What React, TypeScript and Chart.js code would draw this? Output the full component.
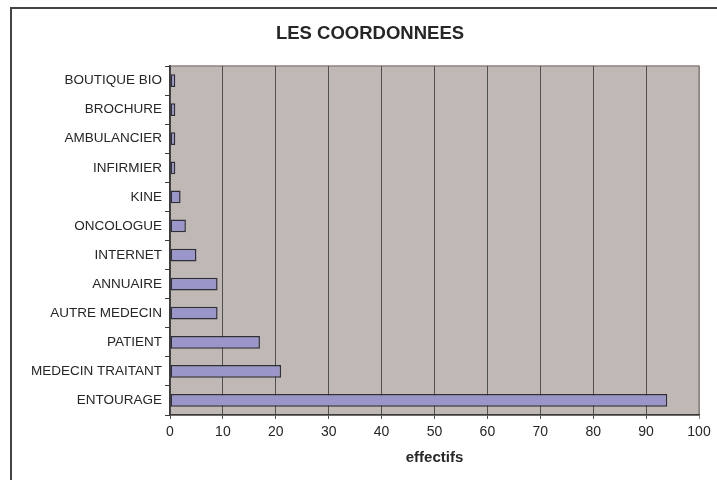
import React, { useEffect, useRef } from "react";
import { Chart, registerables } from "chart.js";

Chart.register(...registerables);

const categories = [
  "BOUTIQUE BIO",
  "BROCHURE",
  "AMBULANCIER",
  "INFIRMIER",
  "KINE",
  "ONCOLOGUE",
  "INTERNET",
  "ANNUAIRE",
  "AUTRE MEDECIN",
  "PATIENT",
  "MEDECIN TRAITANT",
  "ENTOURAGE",
];
const effectifs = [1, 1, 1, 1, 2, 3, 5, 9, 9, 17, 21, 94];
const chartTitle = "LES COORDONNEES";
const xAxisTitle = "effectifs";
const xMin = 0;
const xMax = 100;
const xStep = 10;

const FONT = '"Liberation Sans", Arial, Helvetica, sans-serif';

const plotPlugin = {
  id: "plotDecor",
  beforeDraw(chart: any) {
    const { ctx, chartArea } = chart;
    const { left, top, right, bottom } = chartArea;
    ctx.save();
    ctx.fillStyle = "#c0b8b5";
    ctx.fillRect(left, top, right - left, bottom - top);
    ctx.strokeStyle = "#8d8481";
    ctx.lineWidth = 1.5;
    ctx.strokeRect(left, top, right - left, bottom - top);
    ctx.restore();
  },
  afterDraw(chart: any) {
    const { ctx } = chart;
    ctx.save();
    ctx.fillStyle = "#262626";
    ctx.font = `bold 18.5px ${FONT}`;
    ctx.textAlign = "center";
    ctx.textBaseline = "alphabetic";
    ctx.fillText(chartTitle, 370, 38.5);
    ctx.restore();
  },
};

export default function App() {
  const canvasRef = useRef<HTMLCanvasElement | null>(null);

  useEffect(() => {
    const canvas = canvasRef.current;
    if (!canvas) return;
    const chart = new Chart(canvas, {
      type: "bar",
      data: {
        labels: categories,
        datasets: [
          {
            data: effectifs,
            backgroundColor: "#9a96c9",
            borderColor: "#2f2f3a",
            borderWidth: 1.5,
            borderSkipped: false,
            barPercentage: 0.44,
            categoryPercentage: 1,
          },
        ],
      },
      options: {
        indexAxis: "y",
        responsive: false,
        animation: false,
        devicePixelRatio: 1,
        layout: { padding: { left: 0, right: 18, top: 66, bottom: 0 } },
        plugins: {
          legend: { display: false },
          tooltip: { enabled: false },
          title: { display: false },
        },
        scales: {
          x: {
            type: "linear",
            min: xMin,
            max: xMax,
            ticks: {
              stepSize: xStep,
              color: "#262626",
              font: { family: FONT, size: 14 },
              padding: 5,
            },
            grid: {
              color: (c: any) => (c.tick && c.tick.value === xMax ? "#8d8481" : "#505050"),
              lineWidth: 1,
              tickLength: 4,
              drawOnChartArea: true,
              drawTicks: true,
            },
            border: { color: "#3a3a3a", width: 1.5 },
            title: {
              display: true,
              text: xAxisTitle,
              color: "#262626",
              font: { family: FONT, size: 15, weight: "bold" },
              padding: { top: 0, bottom: 13 },
            },
            afterFit: (s: any) => {
              s.height = 65;
            },
          },
          y: {
            type: "category",
            ticks: {
              color: "#262626",
              font: { family: FONT, size: 13.5 },
              padding: 3,
              autoSkip: false,
            },
            grid: {
              offset: true,
              drawOnChartArea: false,
              tickLength: 5,
              color: "#3a3a3a",
            },
            border: { color: "#3a3a3a", width: 1.5 },
            afterFit: (s: any) => {
              s.width = 170;
            },
          },
        },
      },
      plugins: [plotPlugin],
    } as any);
    return () => chart.destroy();
  }, []);

  return (
    <div
      style={{
        position: "fixed",
        left: 0,
        top: 0,
        width: 717,
        height: 480,
        overflow: "hidden",
        background: "#ffffff",
      }}
    >
      <canvas
        ref={canvasRef}
        width={717}
        height={480}
        style={{ position: "absolute", left: 0, top: 0, width: 717, height: 480 }}
      />
      <div
        style={{
          position: "absolute",
          left: 10,
          top: 7,
          width: 760,
          height: 520,
          border: "2px solid #444",
          pointerEvents: "none",
        }}
      />
    </div>
  );
}
